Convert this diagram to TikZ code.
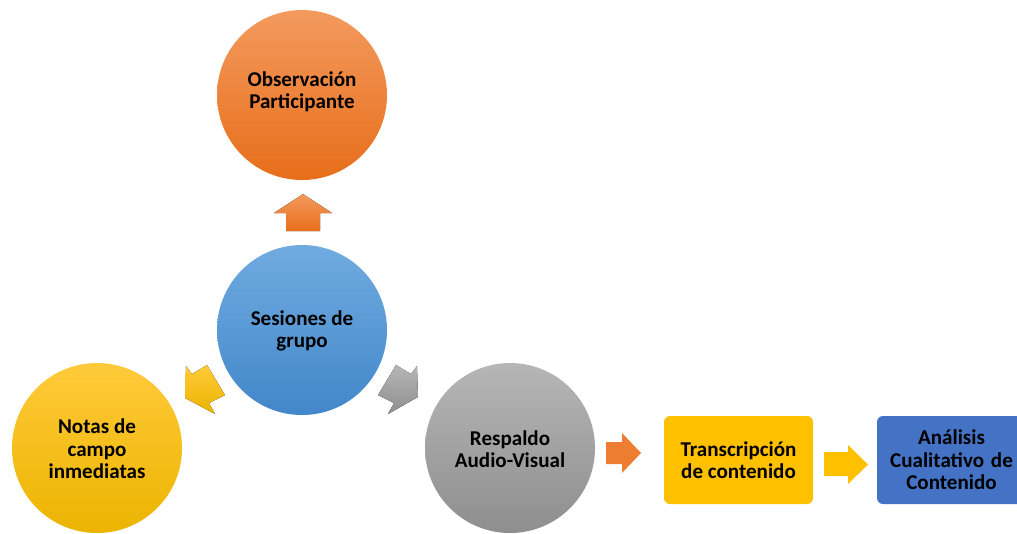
\documentclass[tikz,border=0pt]{standalone}
\usepackage{fontspec}
\setmainfont{Carlito}
\definecolor{orT}{RGB}{244,154,94}
\definecolor{orB}{RGB}{231,110,26}
\definecolor{blT}{RGB}{112,171,224}
\definecolor{blB}{RGB}{66,135,202}
\definecolor{goT}{RGB}{255,202,58}
\definecolor{goB}{RGB}{236,180,0}
\definecolor{grT}{RGB}{182,182,182}
\definecolor{grB}{RGB}{142,142,142}
\definecolor{gold}{RGB}{255,192,0}
\definecolor{offblue}{RGB}{68,114,196}
\definecolor{offorange}{RGB}{237,125,49}
\tikzset{
  bubble/.style={circle, minimum size=127.5pt, inner sep=0pt},
  box/.style={rounded corners=4.5pt, inner sep=0pt, align=center,
     font=\fontsize{15.8}{16.8}\selectfont\bfseries, text=black},
  txt/.style={align=center, font=\fontsize{15.8}{16.8}\selectfont\bfseries, text=black, inner sep=0pt}
}
\begin{document}
\begin{tikzpicture}[x=0.75pt,y=-0.75pt]
\useasboundingbox (0,0) rectangle (1017,533);
\clip (0,0) rectangle (1017,533);
% circles
\node[bubble, top color=orT, bottom color=orB] (obs) at (302,95) {};
\node[txt] (obst) at (302,92) {Observación\\Participante};
\node[bubble, top color=blT, bottom color=blB] (ses) at (302,330) {};
\node[txt] (sest) at (302,331) {Sesiones de\\grupo};
\node[bubble, top color=goT, bottom color=goB] (not) at (97,448) {};
\node[txt] (nott) at (97,449) {Notas de\\campo\\inmediatas};
\node[bubble, top color=grT, bottom color=grB] (res) at (510,448) {};
\node[txt] (rest) at (510,449) {Respaldo\\Audio-Visual};
% boxes
\node[box, fill=gold, minimum width=111.75pt, minimum height=66pt] (tra) at (738.5,460) {Transcripción\\de contenido};
\fill[offblue, rounded corners=4.5pt] (877,416) rectangle (1030,504);
\node[txt] (ana) at (951.5,460) {Análisis\\Cualitativo\hspace{0.1em} de\\Contenido};
% arrows
\fill[top color=orT, bottom color=orB] (303,194) -- (332,213) -- (320,213) -- (320,231) -- (286,231) -- (286,213) -- (274,213) -- cycle;
\fill[top color=goT, bottom color=goB] (185,398) -- (186,366) -- (192,374) -- (207,365) -- (225,395) -- (209,403) -- (215,414) -- cycle;
\fill[top color=grT, bottom color=grB] (418,397) -- (417,366) -- (411,374) -- (396,365) -- (378,395) -- (394,403) -- (388,414) -- cycle;
\fill[offorange] (606,442) -- (622,442) -- (622,433) -- (641,453) -- (622,473) -- (622,464) -- (606,464) -- cycle;
\fill[gold] (824,452) -- (848,452) -- (848,445) -- (868,464.5) -- (848,484) -- (848,476) -- (824,476) -- cycle;
\end{tikzpicture}
\end{document}
